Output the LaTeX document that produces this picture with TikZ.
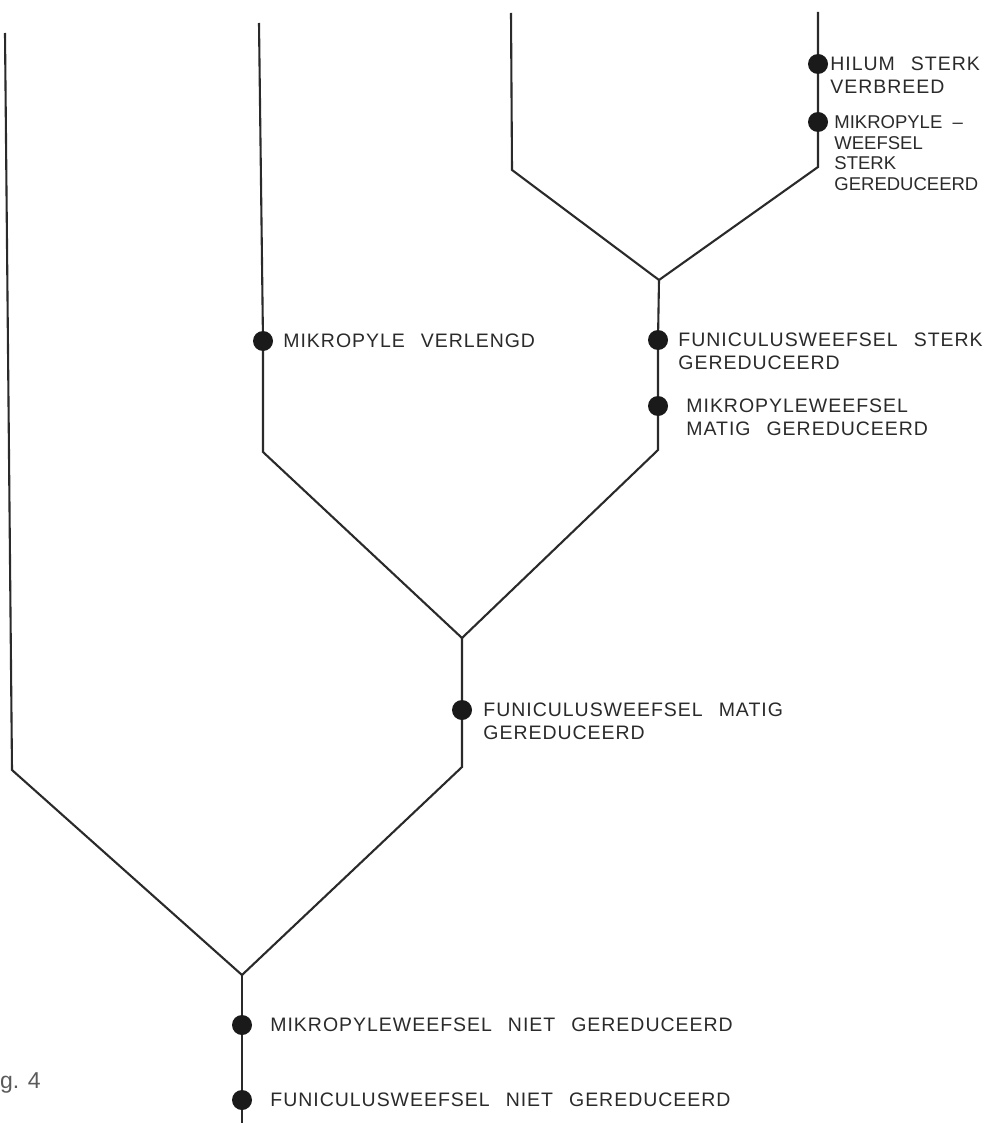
\documentclass[tikz,border=0pt]{standalone}
\usepackage{fontspec}
\setmainfont{Liberation Sans}
\newfontfamily\hand[LetterSpace=5,WordSpace=2.5]{Liberation Sans}
\newfontfamily\handsmal[WordSpace=2]{Liberation Sans}
\usepackage{xcolor}
\definecolor{inkt}{HTML}{2A2A2A}
\definecolor{stip}{HTML}{1A1A1A}
\definecolor{druk}{HTML}{5A5A5A}

\begin{document}
\begin{tikzpicture}[x=1pt,y=-1pt]
% Stijlen
\tikzstyle{tak}=[draw=inkt,line width=2.1pt,line join=miter]
\tikzstyle{kenmerk}=[circle,fill=stip,minimum size=20pt,inner sep=0pt]
\tikzstyle{tekst}=[anchor=north west,inner sep=0pt,align=left,text=inkt,font=\hand\fontsize{19.5}{23}\selectfont]
\tikzstyle{tekstklein}=[tekst,font=\handsmal\fontsize{18.5}{20.7}\selectfont]
% Maten
\def\HalveKap{7pt}
\useasboundingbox (0,0) rectangle (983,1123);
% Vertakkingspunten
\coordinate (R0) at (242,1123);
\coordinate (R) at (242,975);
\coordinate (Ra) at (12,770);
\coordinate (RaT) at (5,33);
\coordinate (RbK) at (462,767);
\coordinate (Rb) at (462,638);
\coordinate (Rba) at (263,452);
\coordinate (RbaT) at (259,23);
\coordinate (RbbK) at (658,450);
\coordinate (Rbb) at (659,280);
\coordinate (Rbba) at (512,170);
\coordinate (RbbaT) at (511,13);
\coordinate (Rbbb) at (818,167);
\coordinate (RbbbT) at (818,12);
% Kenmerken
\node[kenmerk] (Pr1) at (242,1025) {};
\node[kenmerk] (Pr2) at (242,1100) {};
\node[kenmerk] (Pb) at (462,710) {};
\node[kenmerk] (Pba) at (263,341) {};
\node[kenmerk] (Pbb1) at (658,340) {};
\node[kenmerk] (Pbb2) at (658,406) {};
\node[kenmerk] (Pbbb1) at (818,64) {};
\node[kenmerk] (Pbbb2) at (818,122) {};
% Takken
\draw[tak] (R0) -- (Pr2) -- (Pr1) -- (R);
\draw[tak] (R) -- (Ra) -- (RaT);
\draw[tak] (R) -- (RbK) -- (Pb) -- (Rb);
\draw[tak] (Rb) -- (Rba) -- (Pba) -- (RbaT);
\draw[tak] (Rb) -- (RbbK) -- (Pbb2) -- (Pbb1) -- (Rbb);
\draw[tak] (Rbb) -- (Rbba) -- (RbbaT);
\draw[tak] (Rbb) -- (Rbbb) -- (Pbbb2) -- (Pbbb1) -- (RbbbT);
% Teksten
\node[tekst] (Lr1) at ([xshift=18pt,yshift=\HalveKap]Pr1.east) {MIKROPYLEWEEFSEL NIET GEREDUCEERD};
\node[tekst] (Lr2) at ([xshift=18pt,yshift=\HalveKap]Pr2.east) {FUNICULUSWEEFSEL NIET GEREDUCEERD};
\node[tekst] (Lb) at ([xshift=11pt,yshift=\HalveKap]Pb.east) {FUNICULUSWEEFSEL MATIG\\GEREDUCEERD};
\node[tekst] (Lba) at ([xshift=10pt,yshift=\HalveKap]Pba.east) {MIKROPYLE VERLENGD};
\node[tekst] (Lbb1) at ([xshift=10pt,yshift=\HalveKap]Pbb1.east) {FUNICULUSWEEFSEL STERK\\GEREDUCEERD};
\node[tekst] (Lbb2) at ([xshift=18pt,yshift=\HalveKap]Pbb2.east) {MIKROPYLEWEEFSEL\\MATIG GEREDUCEERD};
\node[tekst] (Lbbb1) at ([xshift=2pt,yshift=\HalveKap]Pbbb1.east) {HILUM STERK\\VERBREED};
\node[tekstklein] (Lbbb2) at ([xshift=6pt,yshift=6.6pt]Pbbb2.east) {MIKROPYLE –\\WEEFSEL\\STERK\\GEREDUCEERD};
\node[anchor=base west,inner sep=0pt,text=druk,font=\fontsize{23}{26}\selectfont] (Fig) at (0,1088) {g. 4};
\end{tikzpicture}
\end{document}
